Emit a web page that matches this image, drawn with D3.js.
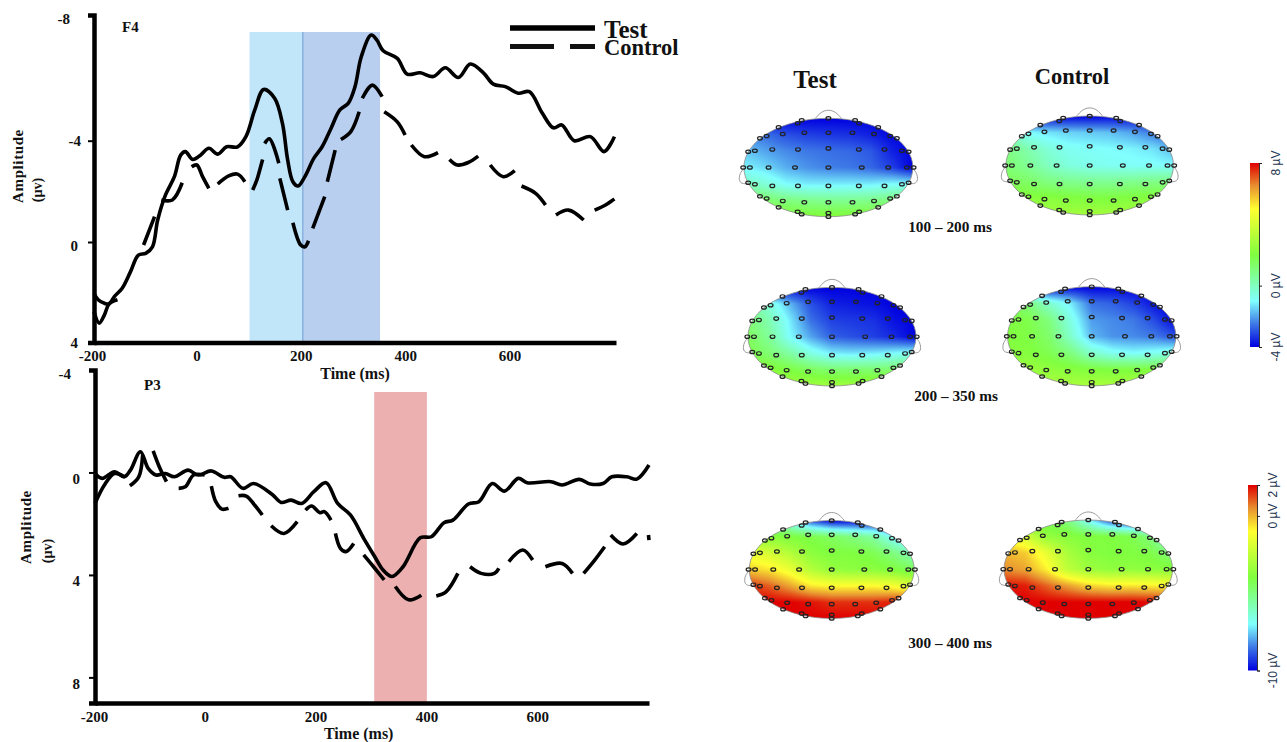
<!DOCTYPE html>
<html>
<head>
<meta charset="utf-8">
<script src="https://cdn.jsdelivr.net/npm/d3@7"></script>
<style>
  body { margin: 0; background: #fff; }
  svg { display: block; }
  text { font-family: "Liberation Serif", serif; font-weight: bold; fill: #111; }
</style>
</head>
<body>
<svg id="chart" width="1287" height="742"></svg>
<script>
// F4 waveforms, null = gap in the dashes
var f4TestTime = [-200,-192,-180,-171,-161,-146,-130,-115,-101,-88,-78,-63,-46,-34,-25,-11,4,20,37,54,75,91,108,125,146,161,171,181,191,204,221,237,254,271,287,300,312,331,342,354,381,400,425,450,473,498,521,546,565,588,613,634,659,680,696,720,751,777,797];
var f4TestAmp = [2.04,2.30,2.44,2.46,2.17,1.84,1.18,0.52,0.45,0.19,-0.87,-1.86,-2.58,-3.43,-3.57,-3.26,-3.43,-3.70,-3.47,-3.76,-3.76,-4.13,-4.98,-5.63,-5.35,-4.55,-3.24,-2.38,-2.21,-2.58,-3.30,-3.76,-4.39,-4.98,-5.19,-5.72,-6.67,-7.36,-7.20,-6.86,-6.62,-6.12,-6.16,-6.04,-6.32,-6.01,-6.44,-6.16,-5.80,-5.72,-5.51,-5.56,-4.87,-4.41,-4.50,-4.00,-4.13,-3.57,-4.13];
var f4CtrlTime = [-200,-190,-180,-171,-155,null,-105,-84,null,-71,-50,-31,null,-13,-3,8,20,null,37,58,75,89,null,104,112,123,null,127,136,154,null,156,171,null,181,196,204,211,null,219,242,null,247,262,null,273,292,308,null,314,333,352,null,356,381,396,null,408,433,459,null,481,496,517,536,null,559,584,606,null,619,646,665,null,685,709,738,null,759,780,797];
var f4CtrlAmp = [2.77,3.23,2.90,2.46,2.30,null,0.12,-1.00,null,-1.66,-1.66,-2.34,null,-2.97,-3.04,-2.58,-2.12,null,-2.29,-2.61,-2.68,-2.38,null,-2.05,-2.45,-3.26,null,-3.89,-4.06,-3.11,null,-2.51,-1.26,null,-0.76,0.12,0.19,-0.05,null,-0.54,-1.79,null,-2.38,-3.63,null,-4.04,-4.29,-4.92,null,-5.35,-5.77,-5.40,null,-4.92,-4.60,-4.18,null,-3.83,-3.37,-3.53,null,-3.26,-3.04,-3.14,-3.39,null,-3.04,-2.58,-2.82,null,-2.21,-1.92,-1.46,null,-1.07,-1.26,-0.87,null,-1.26,-1.46,-1.70];

// P3 waveforms
var p3TestTime = [-200,-187,-165,-147,-136,-118,-104,-90,-73,-57,-32,-14,10,33,45,67,86,120,136,154,173,195,217,238,261,285,305,320,336,356,387,407,430,446,474,493,517,539,564,580,623,643,674,694,717,733,760,778,800];
var p3TestAmp = [0.04,0.23,-0.03,0.17,-0.09,-0.81,-0.16,0.10,0.04,0.17,-0.09,0.10,-0.06,0.19,0.17,0.62,0.43,0.86,1.17,1.08,1.21,0.75,0.40,1.21,1.66,2.57,3.29,3.81,4.06,3.68,2.55,2.51,1.96,1.86,1.23,1.14,0.43,0.73,0.23,0.40,0.36,0.49,0.27,0.45,0.43,0.17,0.17,0.26,-0.29];
var p3CtrlTime = [-200,-183,-165,-147,null,-137,-121,-114,null,-95,-84,-71,null,-49,-37,-22,-2,null,10,18,29,41,null,59,73,88,102,null,118,141,165,null,180,191,206,214,226,null,234,243,253,267,null,285,305,322,null,342,366,389,null,416,434,455,null,477,497,521,529,null,547,572,590,null,613,643,662,null,682,702,720,null,731,753,778,null,799,800];
var p3CtrlAmp = [1.21,0.49,0.04,0.17,null,0.52,0.17,-0.68,null,-0.84,-0.22,0.36,null,0.62,0.56,0.10,0.10,null,0.53,1.14,1.43,1.40,null,0.91,0.92,1.27,1.66,null,2.08,2.38,1.92,null,1.47,1.31,1.57,1.53,1.86,null,2.38,2.96,3.09,2.77,null,3.22,3.74,4.19,null,4.45,4.97,4.79,null,4.82,4.65,3.94,null,3.68,3.94,3.94,3.74,null,3.48,3.03,3.42,null,3.68,3.55,3.94,null,3.94,3.42,2.90,null,2.44,2.79,2.38,null,2.44,2.64];

var xTicks = [-200, 0, 200, 400, 600];
var f4Ticks = [-8, -4, 0, 4];
var p3Ticks = [-4, 0, 4, 8];

// scalp maps: potential (uV) on a coarse head grid
var gridU = [-1, -0.75, -0.5, -0.25, 0, 0.25, 0.5, 0.75, 1];
var gridV = [-1, -0.67, -0.33, 0, 0.33, 0.67, 1];
var mapTest1 = [
  [-4,-4,-4,-4,-4,-4,-4,-4,-4],
  [-2.2,-2.6,-3,-3.2,-3.3,-3.4,-3.6,-3.9,-4],
  [-1.6,-2,-2.3,-2.5,-2.6,-2.7,-2.9,-3.6,-4],
  [-1.1,-1.4,-1.9,-2.2,-2.4,-2.5,-2.7,-3.2,-4],
  [0,-0.4,-1,-1.2,-1.2,-1.2,-1.2,-1,-1],
  [1.5,1.3,1,0.8,0.7,0.7,0.8,1,1.2],
  [2.2,2.2,2.2,2.2,2.2,2.2,2.2,2.2,2.2]];
var mapCtrl1 = [
  [-4,-4,-4,-4,-4,-4,-4,-4,-4],
  [0,-1,-1.3,-1.5,-1.6,-1.7,-2,-2.5,-3],
  [1,0.3,-0.4,-0.8,-0.9,-1,-1.1,-1.3,-1.8],
  [1.2,0.7,0,-0.5,-0.7,-0.8,-0.9,-0.9,-1],
  [1.6,1.4,1,0.8,0.7,0.7,0.8,0.9,1],
  [2.2,2.2,2.2,2.1,2,2,2.1,2.2,2.2],
  [2.8,2.8,2.8,2.8,2.8,2.8,2.8,2.8,2.8]];
var mapTest2 = [
  [-4,-4,-4,-4,-4,-4,-4,-4,-4],
  [0.5,-0.5,-1.8,-3,-3.6,-3.7,-3.8,-4,-4],
  [1.2,0.2,-1.2,-2.6,-3.2,-3.3,-3.4,-3.8,-4],
  [1.5,0.6,-1,-2,-2.8,-3,-3.2,-3.5,-4],
  [1.8,1.2,0.4,-0.6,-1.2,-1.3,-1.2,-1,-0.8],
  [2.3,2.2,1.9,1.5,1.2,1.2,1.2,1.3,1.5],
  [2.8,2.8,2.8,2.8,2.8,2.8,2.8,2.8,2.8]];
var mapCtrl2 = [
  [-4,-4,-4,-4,-4,-4,-4,-4,-4],
  [1.5,1,-0.3,-1.2,-2.6,-2.8,-3.2,-3.8,-4],
  [2,1.8,1,-0.6,-2.1,-2.3,-2.5,-3.1,-4],
  [2,1.9,1.3,-0.2,-1.8,-2.2,-2.3,-2.5,-3],
  [2.2,2.1,1.7,1,-0.2,-0.8,-1,-0.8,-0.5],
  [2.6,2.6,2.4,2.2,2,1.9,1.9,2,2.1],
  [3,3,3,3,3,3,3,3,3]];
var mapTest3 = [
  [-5,-6,-7,-9,-10,-10,-10,-10,-10],
  [-3.5,-3.8,-4,-4.2,-4.5,-5,-5.5,-7,-8],
  [-1.5,-2,-2.8,-3.7,-4,-4,-4.3,-5,-6],
  [-0.3,-0.7,-1.5,-2.8,-3.5,-3.7,-3.7,-4,-4.5],
  [1.5,1,0.2,-0.7,-1,-1,-1,-1.2,-1.8],
  [2,2,2,1.8,1.5,1.5,1.5,1.7,1.7],
  [2,2,2,2,2,2,2,2,2]];
var mapCtrl3 = [
  [-4,-4,-4.5,-5,-7,-9,-10,-10,-10],
  [-1,-2,-3.5,-3.8,-4,-4,-4.2,-5,-7],
  [0,-0.3,-1.5,-3,-3.8,-4,-4,-4.2,-5],
  [0.5,0.2,-0.8,-2.5,-3.3,-3.6,-3.6,-3.7,-3.8],
  [1.8,1.7,1,0.3,-0.4,-0.7,-0.7,-0.8,-1],
  [2,2,2,2,2,2,2,1.9,1.8],
  [2,2,2,2,2,2,2,2,2]];

// electrode sites in head coordinates, left half + midline, right half is mirrored
var sitesLeft = [[-0.364,-0.898],[-0.316,-0.959],[-0.589,-0.816],[-0.81,-0.592],[-0.731,-0.639],
  [-0.54,-0.68],[-0.285,-0.707],[-0.949,-0.32],[-0.87,-0.34],[-0.664,-0.367],[-0.36,-0.367],
  [-1.008,0],[-0.929,0],[-0.708,0],[-0.395,0],[-0.949,0.31],[-0.87,0.34],[-0.664,0.374],[-0.36,0.374],
  [-0.81,0.585],[-0.731,0.63],[-0.54,0.68],[-0.285,0.707],[-0.589,0.81],[-0.364,0.9],[-0.316,0.95]];
var sitesMid = [[0,-1],[0,-0.707],[0,-0.388],[0,0],[0,0.374],[0,0.707],[0,0.925],[0,1]];
var noseShape = [[-0.158,-0.99],[-0.09,-1.13],[0,-1.18],[0.09,-1.13],[0.158,-0.99]];
var earShape = [[-1,0.02],[-1.05,0.12],[-1.06,0.26],[-1.03,0.33],[-0.95,0.33]];

// colour bars
var barStops = [0, 0.125, 0.25, 0.5, 0.75, 0.875, 1];
var barColors = ["#0000e0", "#3d78e6", "#80ffff", "#80ff40", "#ffff30", "#e89030", "#e00000"];
var rangeEarly = [-4, 8];
var rangeLate = [-10, 2];
var barTicksEarly = [-4, 0, 8];
var barTicksLate = [-10, 0, 2];

var svg = d3.select("#chart");

var line = d3.line()
  .defined(function(d) { return d[1] !== null; })
  .curve(d3.curveCatmullRom.alpha(0.5));

// one ERP panel
function drawPanel(p) {
  var x = d3.scaleLinear().domain([-200, 800]).range(p.xRange);
  var y = d3.scaleLinear().domain(p.yDomain).range(p.yRange);
  var g = svg.append("g");

  p.shades.forEach(function(s) {
    g.append("rect")
      .attr("x", x(s.from)).attr("width", x(s.to) - x(s.from))
      .attr("y", p.shadeTop).attr("height", p.xAxisY - p.shadeTop)
      .attr("fill", s.color);
  });
  if (p.divider !== undefined) {
    g.append("line")
      .attr("x1", x(p.divider)).attr("x2", x(p.divider))
      .attr("y1", p.shadeTop).attr("y2", p.xAxisY)
      .attr("stroke", "#7ba7dc").attr("stroke-width", 1.2);
  }

  var xAxis = g.append("g")
    .attr("transform", "translate(0," + p.xAxisY + ")")
    .call(d3.axisBottom(x).tickValues(xTicks).tickSize(0).tickPadding(8).tickFormat(String));
  xAxis.select(".domain").attr("stroke", "#000").attr("stroke-width", 4.5);
  xAxis.selectAll("text").attr("font-size", 15).attr("fill", "#111").attr("dx", p.xLabelShift);

  var yAxis = g.append("g")
    .attr("transform", "translate(" + p.xRange[0] + ",0)")
    .call(d3.axisLeft(y).tickValues(p.yTicks).tickSize(6).tickPadding(9).tickFormat(String));
  yAxis.select(".domain").attr("stroke", "#000").attr("stroke-width", 4.5);
  yAxis.selectAll("line").attr("stroke", "#000").attr("stroke-width", 2);
  yAxis.selectAll("text").attr("font-size", 15).attr("fill", "#111")
    .attr("dy", function(d, i) { return p.yLabelShift[i]; })
    .attr("dx", function(d, i) { return p.yLabelNudge[i]; });

  [[p.ctrlTime, p.ctrlAmp], [p.testTime, p.testAmp]].forEach(function(s) {
    g.append("path")
      .datum(d3.zip(s[0], s[1]).map(function(d) { return [d[0] === null ? 0 : x(d[0]), d[1] === null ? null : y(d[1])]; }))
      .attr("fill", "none")
      .attr("stroke", "#000")
      .attr("stroke-width", 3.6)
      .attr("d", line);
  });

  g.append("text").attr("x", p.titleX).attr("y", p.titleY).attr("font-size", 15).text(p.title);
  g.append("text").attr("x", x(p.xLabelAt)).attr("y", p.xAxisY + 36).attr("text-anchor", "middle")
    .attr("font-size", 16).text("Time (ms)");
  g.append("text").attr("transform", "translate(" + p.ampX + "," + p.ampY + ") rotate(-90)")
    .attr("text-anchor", "middle").attr("font-size", 15).style("letter-spacing", "0.6px").text("Amplitude");
  g.append("text").attr("transform", "translate(" + p.unitX + "," + p.unitY + ") rotate(-90)")
    .attr("text-anchor", "middle").attr("font-size", 14).text("(µv)");
}

drawPanel({
  title: "F4", titleX: 122, titleY: 32,
  xRange: [94, 616], xAxisY: 342.5, xLabelAt: 300, xLabelShift: -2,
  yDomain: [-8, -4, 0, 4], yRange: [15, 140.7, 242, 342.5], yTicks: f4Ticks,
  yLabelShift: [8, 5, 8, 5], yLabelNudge: [-9, 2, -1, -1],
  shadeTop: 32, divider: 200,
  shades: [{from: 98, to: 200, color: "#c1e5f9"}, {from: 200, to: 348, color: "#b9cfef"}],
  testTime: f4TestTime, testAmp: f4TestAmp, ctrlTime: f4CtrlTime, ctrlAmp: f4CtrlAmp,
  ampX: 23, ampY: 166, unitX: 42, unitY: 190
});

drawPanel({
  title: "P3", titleX: 144, titleY: 390,
  xRange: [95, 649], xAxisY: 703, xLabelAt: 276, xLabelShift: -1,
  yDomain: [-4, 9], yRange: [370, 703], yTicks: p3Ticks,
  yLabelShift: [8, 11, 11, 11], yLabelNudge: [-9, 0, 0, 0],
  shadeTop: 392,
  shades: [{from: 304, to: 399, color: "#ecb0b0"}],
  testTime: p3TestTime, testAmp: p3TestAmp, ctrlTime: p3CtrlTime, ctrlAmp: p3CtrlAmp,
  ampX: 31, ampY: 527, unitX: 52, unitY: 551
});

// legend
var legend = svg.append("g");
legend.append("line").attr("x1", 510).attr("x2", 595).attr("y1", 28).attr("y2", 28)
  .attr("stroke", "#000").attr("stroke-width", 5.5);
legend.append("line").attr("x1", 510).attr("x2", 595).attr("y1", 46.5).attr("y2", 46.5)
  .attr("stroke", "#111").attr("stroke-width", 5).attr("stroke-dasharray", "44 16 25");
legend.append("text").attr("x", 604).attr("y", 38).attr("font-size", 25).text("Test");
legend.append("text").attr("x", 604).attr("y", 55).attr("font-size", 22.5).text("Control");

// scalp maps
var mapId = 0;
function drawMap(cx, cy, rx, ry, grid, range) {
  var color = d3.scaleLinear()
    .domain(barStops.map(d3.scaleLinear().domain([0, 1]).range(range)))
    .range(barColors).clamp(true);
  var uAt = d3.scaleLinear().domain(d3.extent(gridU)).range([0, gridU.length - 1]);
  var vAt = d3.scaleLinear().domain(d3.extent(gridV)).range([0, gridV.length - 1]);
  var px = d3.scaleLinear().domain([-1, 1]).range([cx - rx, cx + rx]);
  var py = d3.scaleLinear().domain([-1, 1]).range([cy - ry, cy + ry]);

  // grid -> image, bilinear between the read values
  var w = Math.round(rx * 2), h = Math.round(ry * 2);
  var canvas = document.createElement("canvas");
  canvas.width = w; canvas.height = h;
  var ctx = canvas.getContext("2d");
  var img = ctx.createImageData(w, h);
  for (var j = 0; j < h; j++) {
    var v = vAt(-1 + 2 * (j + 0.5) / h);
    var j0 = Math.min(Math.floor(v), grid.length - 2), tv = v - j0;
    for (var i = 0; i < w; i++) {
      var u = uAt(-1 + 2 * (i + 0.5) / w);
      var i0 = Math.min(Math.floor(u), gridU.length - 2), tu = u - i0;
      var val = (1 - tv) * ((1 - tu) * grid[j0][i0] + tu * grid[j0][i0 + 1]) +
                tv * ((1 - tu) * grid[j0 + 1][i0] + tu * grid[j0 + 1][i0 + 1]);
      var c = d3.rgb(color(val));
      var k = (j * w + i) * 4;
      img.data[k] = c.r; img.data[k + 1] = c.g; img.data[k + 2] = c.b; img.data[k + 3] = 255;
    }
  }
  ctx.putImageData(img, 0, 0);

  var id = "head" + (mapId++);
  svg.append("clipPath").attr("id", id).append("ellipse")
    .attr("cx", cx).attr("cy", cy).attr("rx", rx).attr("ry", ry);
  var g = svg.append("g");
  g.append("image")
    .attr("x", cx - rx).attr("y", cy - ry).attr("width", rx * 2).attr("height", ry * 2)
    .attr("preserveAspectRatio", "none")
    .attr("clip-path", "url(#" + id + ")")
    .attr("href", canvas.toDataURL());
  g.append("ellipse").attr("cx", cx).attr("cy", cy).attr("rx", rx).attr("ry", ry)
    .attr("fill", "none").attr("stroke", "#8a8a8a").attr("stroke-width", 0.8);

  var outline = d3.line().x(function(d) { return px(d[0]); }).y(function(d) { return py(d[1]); }).curve(d3.curveBasis);
  var mirror = function(d) { return [-d[0], d[1]]; };
  [noseShape, earShape, earShape.map(mirror)].forEach(function(shape) {
    g.append("path").attr("d", outline(shape))
      .attr("fill", "none").attr("stroke", "#9a9a9a").attr("stroke-width", 1);
  });

  g.selectAll("ellipse.site")
    .data(sitesLeft.concat(sitesLeft.map(mirror), sitesMid))
    .enter().append("ellipse")
    .attr("class", "site")
    .attr("cx", function(d) { return px(d[0]); })
    .attr("cy", function(d) { return py(d[1]); })
    .attr("rx", 2.4).attr("ry", 1.7)
    .attr("fill", "none").attr("stroke", "#222").attr("stroke-width", 1.2);
}

drawMap(828.4, 167.5, 84.5, 49.2, mapTest1, rangeEarly);
drawMap(1089.7, 165.5, 83.8, 49.5, mapCtrl1, rangeEarly);
drawMap(832, 336.7, 84, 49.3, mapTest2, rangeEarly);
drawMap(1091.7, 336.3, 84.2, 49.6, mapCtrl2, rangeEarly);
drawMap(831.7, 569.5, 82.5, 49, mapTest3, rangeLate);
drawMap(1088.3, 569.2, 84.3, 49.2, mapCtrl3, rangeLate);

svg.append("text").attr("x", 815).attr("y", 88).attr("text-anchor", "middle").attr("font-size", 25).text("Test");
svg.append("text").attr("x", 1072).attr("y", 84).attr("text-anchor", "middle").attr("font-size", 22.5).text("Control");
svg.append("text").attr("x", 950).attr("y", 232).attr("text-anchor", "middle").attr("font-size", 15.3).text("100 – 200 ms");
svg.append("text").attr("x", 956).attr("y", 401).attr("text-anchor", "middle").attr("font-size", 15.3).text("200 – 350 ms");
svg.append("text").attr("x", 950).attr("y", 648).attr("text-anchor", "middle").attr("font-size", 15.3).text("300 – 400 ms");

// colour bars
var defs = svg.append("defs");
var grad = defs.append("linearGradient").attr("id", "barGrad")
  .attr("x1", 0).attr("x2", 0).attr("y1", 1).attr("y2", 0);
grad.selectAll("stop").data(barStops).enter().append("stop")
  .attr("offset", function(d) { return d; })
  .attr("stop-color", function(d, i) { return barColors[i]; });

function drawBar(barX, labelX, range, ticks, yRange) {
  var y = d3.scaleLinear().domain(range).range(yRange);
  var g = svg.append("g");
  g.append("rect").attr("x", barX).attr("width", 9)
    .attr("y", y(range[1])).attr("height", y(range[0]) - y(range[1]))
    .attr("fill", "url(#barGrad)");
  var axis = g.append("g").attr("transform", "translate(" + (barX + 9) + ",0)")
    .call(d3.axisRight(y).tickValues(ticks).tickSize(3).tickFormat(""));
  axis.select(".domain").attr("stroke", "#333").attr("stroke-width", 1);
  axis.selectAll("line").attr("stroke", "#222");
  g.selectAll("text.barlab").data(ticks).enter().append("text")
    .attr("class", "barlab")
    .attr("transform", function(d) { return "translate(" + labelX + "," + y(d) + ") rotate(-90)"; })
    .attr("text-anchor", "middle")
    .style("font-family", '"Liberation Sans", sans-serif')
    .style("font-weight", "normal")
    .style("fill", "#1f3550")
    .attr("font-size", 12)
    .text(function(d) { return d + " µV"; });
}
drawBar(1250, 1280, rangeEarly, barTicksEarly, [347, 163]);
drawBar(1248, 1277, rangeLate, barTicksLate, [670.5, 485]);
</script>
</body>
</html>
